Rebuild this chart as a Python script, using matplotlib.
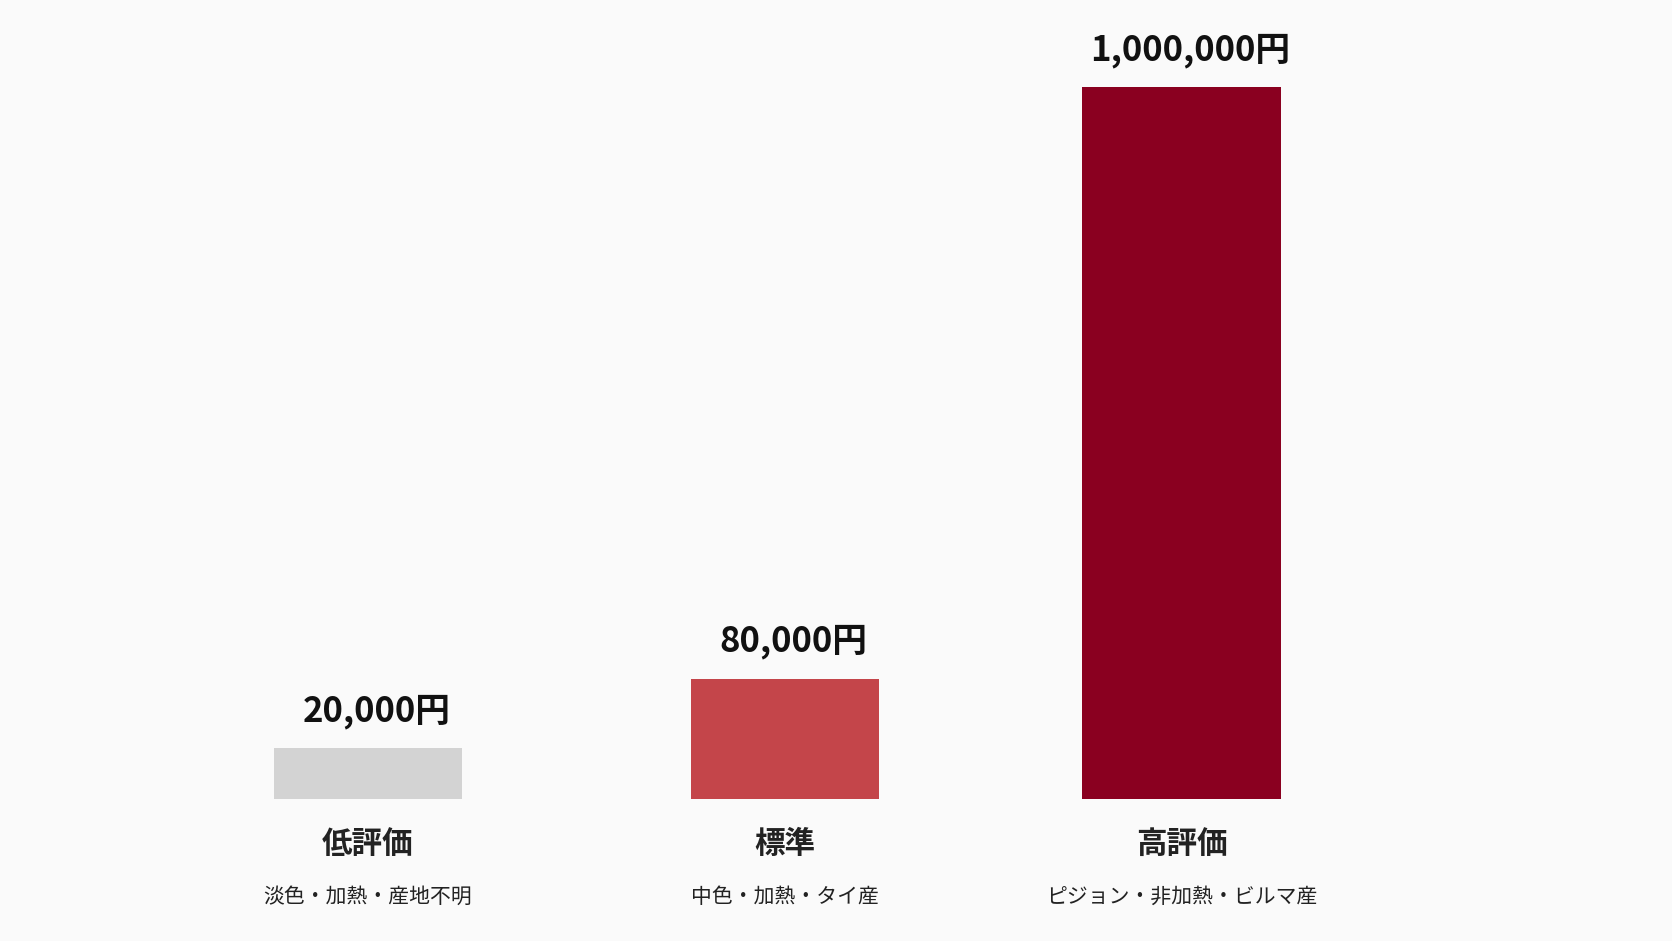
import matplotlib.pyplot as plt

plt.rcParams['font.family'] = ['Noto Sans CJK JP', 'DejaVu Sans']

categories = ['低評価', '標準', '高評価']
subtitles = ['淡色・加熱・産地不明', '中色・加熱・タイ産', 'ピジョン・非加熱・ビルマ産']
prices = [20000, 80000, 1000000]
# visual bar heights as drawn in the reference (not proportional to price)
display_heights = [48, 113, 667]
colors = ['#d3d3d3', '#c4454a', '#8a0020']

fig = plt.figure(figsize=(16.72, 9.41), dpi=100)
fig.patch.set_facecolor('#fafafa')
ax = fig.add_axes([0, 0, 1, 1])
ax.set_facecolor('#fafafa')
ax.set_xlim(0, 1568)
ax.set_ylim(-133, 749)
ax.axis('off')

xpos = [345, 736, 1108]
widths = [176, 176, 187]
for x, w, h, c, p, cat, sub in zip(xpos, widths, display_heights, colors, prices, categories, subtitles):
    ax.bar(x, h, width=w, color=c)
    ax.text(x + 8, h + 18, f'{p:,}円', ha='center', va='bottom',
            fontsize=25, fontweight='bold', color='#111111')
    ax.text(x, -42, cat, ha='center', va='center', fontsize=22,
            fontweight='bold', color='#222222')
    ax.text(x, -92, sub, ha='center', va='center', fontsize=15, color='#222222')

plt.savefig('out.png', dpi=100, facecolor=fig.get_facecolor())
